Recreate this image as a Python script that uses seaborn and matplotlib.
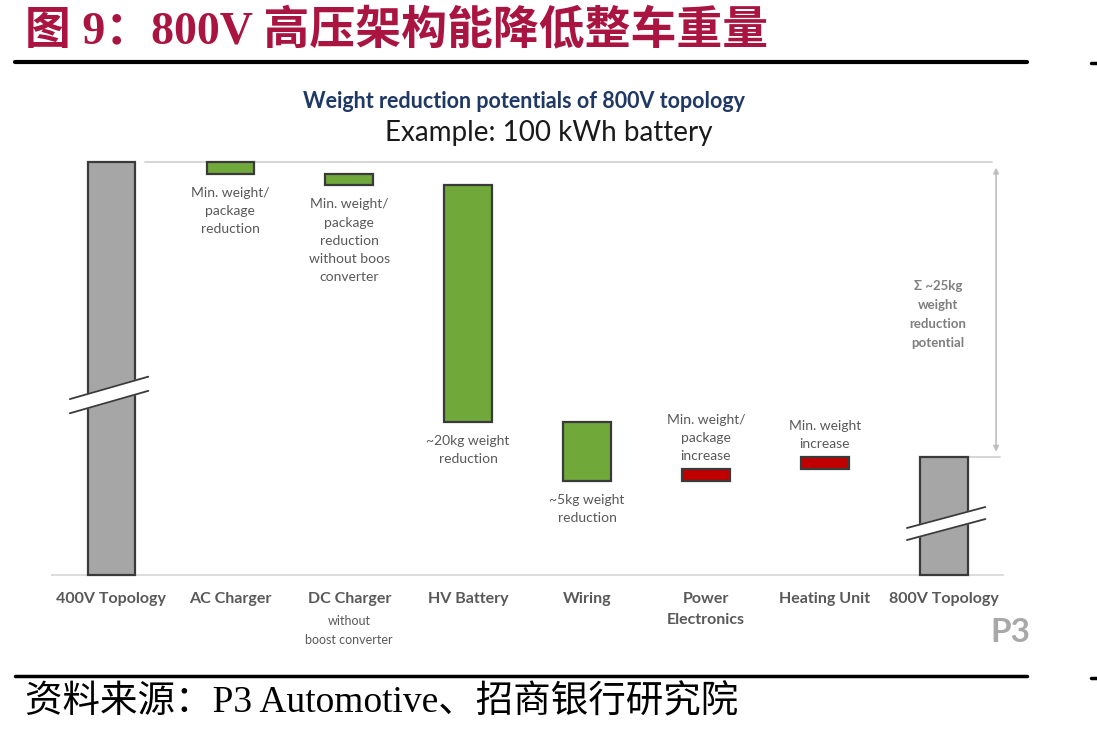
import matplotlib
matplotlib.use("Agg")
import matplotlib.pyplot as plt
from matplotlib.lines import Line2D
import seaborn as sns
import numpy as np

# ---------------- data ----------------
categories = ["400V Topology", "AC Charger", "DC Charger", "HV Battery",
              "Wiring", "Power\nElectronics", "Heating Unit", "800V Topology"]
# change in weight (kg, relative scale; 400V start level shown with axis break)
start_level = 35.0
deltas = [-1.0, -1.0, -20.0, -5.0, 1.0, 1.0]
kinds = ["total", "down", "down", "down", "down", "up", "up", "total"]
annotations = ["", "Min. weight/\npackage\nreduction",
               "Min. weight/\npackage\nreduction\nwithout boos\nconverter",
               "~20kg weight\nreduction", "~5kg weight\nreduction",
               "Min. weight/\npackage\nincrease", "Min. weight\nincrease", ""]
sub_labels = {2: "without\nboost converter"}
total_note = "Σ ~25kg\nweight\nreduction\npotential"

# waterfall geometry from data
levels = [start_level]
for d in deltas:
    levels.append(levels[-1] + d)
end_level = levels[-1]
bottoms, heights = [0.0], [start_level]
for i, d in enumerate(deltas):
    lo = min(levels[i], levels[i + 1])
    bottoms.append(lo)
    heights.append(abs(d))
bottoms.append(0.0)
heights.append(end_level)

color_map = {"total": "#a6a6a6", "down": "#70a83a", "up": "#c00000"}
colors = [color_map[k] for k in kinds]

# ---------------- figure ----------------
sns.set_theme(style="white")
plt.rcParams["font.family"] = ["Lato", "DejaVu Sans"]

fig = plt.figure(figsize=(10.97, 7.36), dpi=100)
fig.patch.set_facecolor("white")
ax = fig.add_axes([52 / 1097, 1 - 575 / 736, (1003.2 - 52) / 1097, 425 / 736])

sns.barplot(x=categories, y=heights, hue=categories, palette=colors,
            legend=False, width=0.4, saturation=1, edgecolor="#3a3a3a",
            linewidth=1.6, ax=ax, zorder=3)

patches = sorted(ax.patches, key=lambda p: p.get_x())
for p, b in zip(patches, bottoms):
    p.set_y(b)
    p.set_clip_on(False)

ax.set_ylim(0, 36)
ax.set_xlim(-0.5, 7.5)
ax.set_yticks([])
for s in ["top", "left", "right"]:
    ax.spines[s].set_visible(False)
ax.spines["bottom"].set_color("#d9d9d9")
ax.spines["bottom"].set_linewidth(1.3)
ax.tick_params(axis="x", length=0, pad=12.5)
ax.set_xticks(range(len(categories)))
ax.set_xticklabels(categories, fontsize=11.5, fontweight="bold", color="#595959",
                   linespacing=1.6)
ax.set_xlabel("")
ax.set_ylabel("")

# sub labels
for i, txt in sub_labels.items():
    ax.text(i, -3.4, txt, ha="center", va="top", fontsize=9, color="#595959",
            linespacing=1.65)

# reference lines
ax.plot([0.28, 7.41], [start_level, start_level], color="#cfcfcf", lw=1.2, zorder=1)
ax.plot([7.2, 7.47], [end_level, end_level], color="#cfcfcf", lw=1.2, zorder=1,
        clip_on=False)
ax.annotate("", xy=(7.44, start_level - 0.25), xytext=(7.44, end_level + 0.2),
            arrowprops=dict(arrowstyle="<|-|>", color="#bfbfbf", lw=1.2,
                            mutation_scale=8), zorder=1, annotation_clip=False)
ax.text(6.95, (start_level + end_level) / 2 - 0.45, total_note, ha="center",
        va="center", fontsize=9.5, fontweight="bold", color="#7f7f7f", linespacing=1.72)

# annotations
for i, txt in enumerate(annotations):
    if not txt:
        continue
    if kinds[i] == "down":
        y = bottoms[i] - 1.1
        va = "top"
    else:
        y = bottoms[i] + heights[i] + 0.55
        va = "bottom"
    ax.text(i, y, txt, ha="center", va=va, fontsize=10, color="#595959",
            linespacing=1.62)

# axis-break marks
def break_mark(x0, x1, y0, y1, gap):
    xs = [x0, x1, x1, x0]
    ys = [y0, y1, y1 - gap, y0 - gap]
    ax.fill(xs, ys, color="white", zorder=4, clip_on=False)
    ax.plot([x0, x1], [y0, y1], color="#3a3a3a", lw=1.3, zorder=5, clip_on=False)
    ax.plot([x0, x1], [y0 - gap, y1 - gap], color="#3a3a3a", lw=1.3, zorder=5,
            clip_on=False)

break_mark(-0.35, 0.31, 14.9, 16.8, 1.2)
break_mark(6.69, 7.35, 3.98, 5.76, 1.02)

# ---------------- figure texts ----------------
fig.text(0.023, 1 - 31 / 736, "图 9：800V 高压架构能降低整车重量", fontsize=33,
         fontweight="bold", color="#aa1440",
         family=["Liberation Serif", "Noto Sans CJK SC"], va="center", ha="left")
fig.add_artist(Line2D([15 / 1097, 1027 / 1097], [1 - 62 / 736] * 2, color="black", lw=3))
fig.add_artist(Line2D([1091 / 1097, 1097 / 1097], [1 - 63 / 736] * 2, color="black", lw=2.5))
fig.add_artist(Line2D([15 / 1097, 1027 / 1097], [1 - 676 / 736] * 2, color="black", lw=2.5))
fig.add_artist(Line2D([1091 / 1097, 1097 / 1097], [1 - 678 / 736] * 2, color="black", lw=2.5))

fig.text(524 / 1097, 1 - 101 / 736, "Weight reduction potentials of 800V topology",
         fontsize=15.5, fontweight="bold", color="#1f3864", ha="center", va="center")
fig.text(549 / 1097, 1 - 133 / 736, "Example: 100 kWh battery", fontsize=20,
         color="#1a1a1a", ha="center", va="center")
fig.text(1010 / 1097, 1 - 632 / 736, "P3", fontsize=24, fontweight="bold",
         color="#a8a8a8", ha="center", va="center")

fig.text(0.023, 1 - 703 / 736, "资料来源：P3 Automotive、招商银行研究院", fontsize=27,
         color="black", family=["Liberation Serif", "Noto Sans CJK SC"],
         va="center", ha="left")

fig.savefig("out.png", dpi=100, facecolor="white")
